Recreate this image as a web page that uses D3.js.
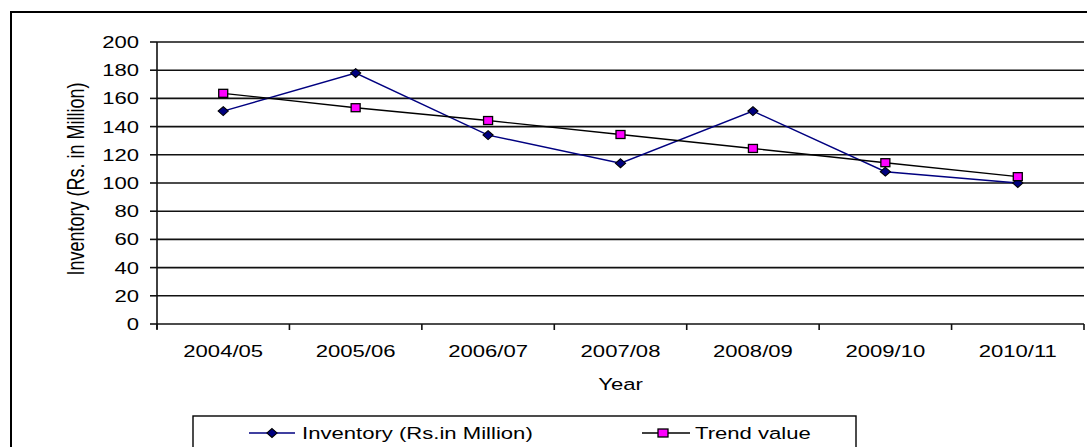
<!DOCTYPE html>
<html>
<head>
<meta charset="utf-8">
<script src="https://cdn.jsdelivr.net/npm/d3@7"></script>
<style>
  body { margin: 0; background: #fff; }
  text { font-family: "Liberation Sans", Arial, sans-serif; fill: #000; }
</style>
</head>
<body>
<div id="container"></div>
<script>
const years = ["2004/05", "2005/06", "2006/07", "2007/08", "2008/09", "2009/10", "2010/11"];
const inventory = [151, 178, 134, 114, 151, 108, 100];
const trend = [163.6, 153.4, 144.3, 134.4, 124.5, 114.4, 104.5];
const yTicks = [0, 20, 40, 60, 80, 100, 120, 140, 160, 180, 200];
const seriesNames = ["Inventory (Rs.in Million)", "Trend value"];

const width = 1087, height = 447;
const plot = {left: 157, right: 1084, top: 42, bottom: 324};
const sx = 1.3; // the source chart is stretched sideways, so text is too

const svg = d3.select('#container')
    .append("svg")
    .attr("width", width)
    .attr("height", height);

svg.append("rect").attr("width", width).attr("height", height).attr("fill", "#fff");

// outer chart border (runs off right and bottom of the picture)
svg.append("rect")
    .attr("x", 11).attr("y", 12)
    .attr("width", width + 20).attr("height", height + 20)
    .attr("fill", "none").attr("stroke", "#000").attr("stroke-width", 2);

const x = d3.scaleBand().domain(years).range([plot.left, plot.right]);
const y = d3.scaleLinear().domain([0, 200]).range([plot.bottom, plot.top]);
const cx = d => x(d) + x.bandwidth() / 2;

function label(g, tx, ty, str, size, anchor) {
    return g.append("text")
        .attr("transform", 'translate(' + tx + ',' + ty + ') scale(' + sx + ',1)')
        .attr("text-anchor", anchor)
        .style("font-size", size + "px")
        .text(str);
}

// gridlines
svg.selectAll(".grid")
    .data(yTicks.filter(d => d > 0))
    .enter()
    .append("line")
    .attr("class", "grid")
    .attr("x1", plot.left).attr("x2", plot.right)
    .attr("y1", d => y(d)).attr("y2", d => y(d))
    .attr("stroke", "#111").attr("stroke-width", 1.6);

// y axis
svg.append("line")
    .attr("x1", plot.left).attr("x2", plot.left)
    .attr("y1", plot.top).attr("y2", plot.bottom + 5)
    .attr("stroke", "#111").attr("stroke-width", 1.6);
svg.selectAll(".ytick")
    .data(yTicks)
    .enter()
    .append("line")
    .attr("x1", plot.left - 7).attr("x2", plot.left)
    .attr("y1", d => y(d)).attr("y2", d => y(d))
    .attr("stroke", "#111").attr("stroke-width", 1.6);
yTicks.forEach(t => label(svg, 139, y(t) + 6, t, 17, "end"));

// x axis
svg.append("line")
    .attr("x1", plot.left).attr("x2", plot.right)
    .attr("y1", plot.bottom).attr("y2", plot.bottom)
    .attr("stroke", "#111").attr("stroke-width", 1.6);
svg.selectAll(".xtick")
    .data(years.concat(["end"]))
    .enter()
    .append("line")
    .attr("x1", (d, i) => i < years.length ? x(d) : plot.right)
    .attr("x2", (d, i) => i < years.length ? x(d) : plot.right)
    .attr("y1", plot.bottom).attr("y2", plot.bottom + 6)
    .attr("stroke", "#111").attr("stroke-width", 1.6);
years.forEach(yr => label(svg, cx(yr), 357, yr, 17, "middle"));

// axis titles
label(svg, (plot.left + plot.right) / 2, 390, "Year", 17, "middle");
svg.append("text")
    .attr("transform", 'translate(84,179) rotate(-90) scale(1,' + sx + ')')
    .attr("text-anchor", "middle")
    .style("font-size", "18px")
    .text("Inventory (Rs. in Million)");

// series
const line = d3.line().x((d, i) => cx(years[i])).y(d => y(d));
const diamond = d3.symbol().type(d3.symbolDiamond2).size(50);

svg.append("path").datum(inventory)
    .attr("d", line).attr("fill", "none")
    .attr("stroke", "#000080").attr("stroke-width", 1.4);
svg.selectAll(".inv")
    .data(inventory)
    .enter()
    .append("path")
    .attr("d", diamond)
    .attr("transform", (d, i) => 'translate(' + cx(years[i]) + ',' + y(d) + ') scale(1.15,1)')
    .attr("fill", "#000080").attr("stroke", "#000").attr("stroke-width", 1);

svg.append("path").datum(trend)
    .attr("d", line).attr("fill", "none")
    .attr("stroke", "#000").attr("stroke-width", 1.4);
svg.selectAll(".trend")
    .data(trend)
    .enter()
    .append("rect")
    .attr("x", (d, i) => cx(years[i]) - 4.5).attr("y", d => y(d) - 4)
    .attr("width", 9).attr("height", 8)
    .attr("fill", "#ff00ff").attr("stroke", "#000").attr("stroke-width", 1.3);

// legend
const legend = svg.append("g");
legend.append("rect")
    .attr("x", 193).attr("y", 416).attr("width", 663).attr("height", 60)
    .attr("fill", "#fff").attr("stroke", "#000").attr("stroke-width", 1.4);

legend.append("line")
    .attr("x1", 249).attr("x2", 295).attr("y1", 433).attr("y2", 433)
    .attr("stroke", "#000080").attr("stroke-width", 1.4);
legend.append("path")
    .attr("d", diamond)
    .attr("transform", 'translate(272,433) scale(1.15,1)')
    .attr("fill", "#000080").attr("stroke", "#000").attr("stroke-width", 1);
label(legend, 302, 439, seriesNames[0], 17, "start");

legend.append("line")
    .attr("x1", 642).attr("x2", 690).attr("y1", 433).attr("y2", 433)
    .attr("stroke", "#000").attr("stroke-width", 1.4);
legend.append("rect")
    .attr("x", 658).attr("y", 429).attr("width", 10).attr("height", 8)
    .attr("fill", "#ff00ff").attr("stroke", "#000").attr("stroke-width", 1.3);
label(legend, 695, 439, seriesNames[1], 17, "start");
</script>
</body>
</html>
